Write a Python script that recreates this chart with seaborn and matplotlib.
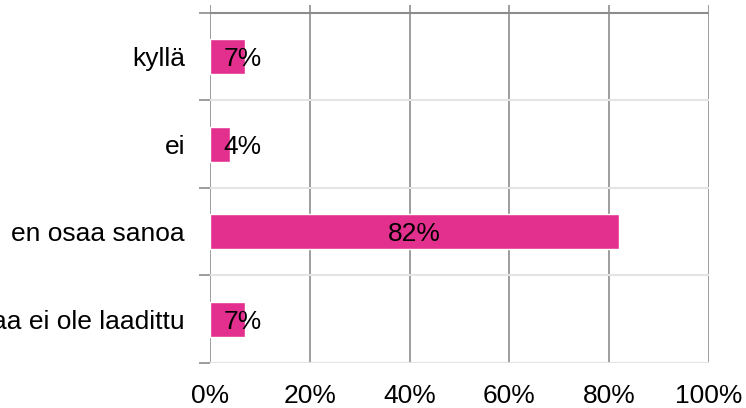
import matplotlib
matplotlib.use("Agg")
import matplotlib.pyplot as plt
import seaborn as sns

# --- data ---
categories = ["kyllä", "ei", "en osaa sanoa", "aa ei ole laadittu"]
values = [7, 4, 82, 7]
value_labels = ["7%", "4%", "82%", "7%"]
x_ticks = [0, 20, 40, 60, 80, 100]
x_tick_labels = ["0%", "20%", "40%", "60%", "80%", "100%"]

BAR_COLOR = "#E3308F"
GRID_DARK = "#8c8c8c"
GRID_LIGHT = "#e4e4e4"
FS = 19

sns.set_style("white")
plt.rcParams['font.family'] = ['Liberation Sans', 'DejaVu Sans']
plt.rcParams['font.size'] = FS

fig = plt.figure(figsize=(7.46, 4.08), dpi=100)
ax = fig.add_axes([210 / 746, 1 - 363 / 408, (709 - 210) / 746, (363 - 5) / 408])

sns.barplot(x=values, y=categories, color=BAR_COLOR, width=0.4, orient="h",
            saturation=1, ax=ax, zorder=3)

# value labels: centred in the bar, pushed right when the bar is short
for i, (v, lab) in enumerate(zip(values, value_labels)):
    ax.text(max(v / 2, 6.6), i, lab, ha="center", va="center_baseline",
            color="black", fontsize=FS, zorder=4)

ax.set_xlim(0, 100)
ax.set_ylim(3.5, -0.59)
ax.set_xticks(x_ticks)
ax.set_xticklabels(x_tick_labels)
ax.set_xlabel("")
ax.set_ylabel("")

# vertical gridlines
for t in x_ticks:
    ax.axvline(t, color=GRID_DARK, lw=1.2, zorder=1)
# horizontal category separators
bounds = [-0.5, 0.5, 1.5, 2.5, 3.5]
for b in bounds:
    ax.axhline(b, color=GRID_DARK if b == -0.5 else GRID_LIGHT, lw=1.5, zorder=2)

ax.set_yticks(bounds, minor=True)
ax.tick_params(axis="y", which="minor", length=8, width=1.2, color=GRID_DARK, left=True)
ax.tick_params(axis="y", which="major", length=0, pad=18, labelcolor="black")
ax.tick_params(axis="x", which="major", length=0, pad=15, labelcolor="black")
for s in ax.spines.values():
    s.set_visible(False)

fig.savefig("out.png", dpi=100)
